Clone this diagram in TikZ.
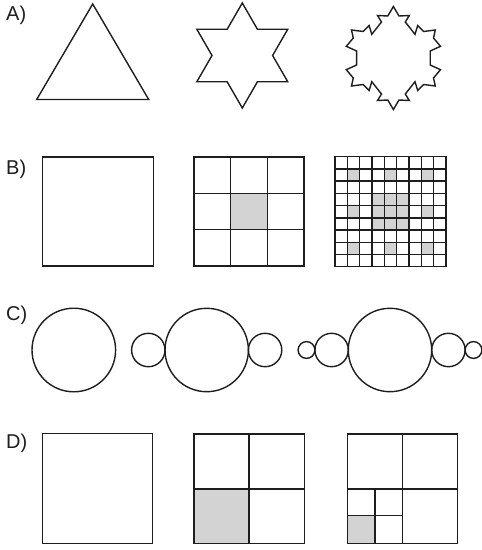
\documentclass[tikz,border=0pt]{standalone}
\usepackage{fontspec}
\setmainfont{Liberation Sans}
\definecolor{shade}{RGB}{211,211,211}
\definecolor{ink}{RGB}{30,30,30}
\begin{document}
\begin{tikzpicture}[x=1pt,y=-1pt,
  shapeline/.style={draw=ink, line width=1.4pt, line join=miter},
  lbl/.style={anchor=base west, inner sep=0pt, font=\fontsize{20}{24}\selectfont, text=ink},
  hole/.style={fill=shade}]
\useasboundingbox (0,0) rectangle (482,550);
\fill[white] (0,0) rectangle (482,550);

% labels
\node[lbl] (labA) at (6,20.5) {A)};
\node[lbl] (labB) at (6,174.3) {B)};
\node[lbl] (labC) at (6,320) {C)};
\node[lbl] (labD) at (6,448) {D)};

% ---- Row A: Koch ----
\draw[shapeline] (92.7,4) -- (148.7,99.5) -- (36.7,99.5) -- cycle;

\begin{scope}[shift={(242.3,55.5)}]
  \draw[shapeline] (90:52.5) \foreach \k in {0,...,5}{ -- ({90-60*\k}:52.5) -- ({60-60*\k}:30.3)} -- cycle;
\end{scope}

\begin{scope}[shift={(393.4,58)}, yscale=-1]
  \draw[shapeline] (0,51.5) -- (5.6,42) -- (15.9,42.5) -- (11.9,36) -- (21.6,23.7) -- (24.3,32.5) -- (30.2,26.5) -- (41.9,28) -- (40.1,20) -- (47.1,11.7) -- (36.8,7)
   -- (36.8,-7) -- (47.1,-11.7) -- (40.1,-20) -- (41.9,-28) -- (30.2,-26.5) -- (24.3,-32.5) -- (21.6,-23.7) -- (11.9,-36) -- (15.9,-42.5) -- (5.6,-42) -- (0,-51.5)
   -- (-5.6,-42) -- (-15.9,-42.5) -- (-11.9,-36) -- (-21.6,-23.7) -- (-24.3,-32.5) -- (-30.2,-26.5) -- (-41.9,-28) -- (-40.1,-20) -- (-47.1,-11.7) -- (-36.8,-7)
   -- (-36.8,7) -- (-47.1,11.7) -- (-40.1,20) -- (-41.9,28) -- (-30.2,26.5) -- (-24.3,32.5) -- (-21.6,23.7) -- (-11.9,36) -- (-15.9,42.5) -- (-5.6,42) -- cycle;
\end{scope}

% ---- Row B: Sierpinski carpet ----
\draw[shapeline] (42.7,157) rectangle (153.3,266);

\begin{scope}[shift={(194,157)}, x=36.667pt, y=-36.333pt]
  \fill[hole] (1,1) rectangle (2,2);
  \foreach \i in {1,2} {
    \draw[shapeline] (\i,0) -- (\i,3);
    \draw[shapeline] (0,\i) -- (3,\i);
  }
  \draw[shapeline] (0,0) rectangle (3,3);
\end{scope}

\begin{scope}[shift={(335,156.7)}, x=12.333pt, y=-12.222pt]
  \foreach \c/\r in {1/1,4/1,7/1,1/4,7/4,1/7,4/7,7/7}
    \fill[hole] (\c,\r) rectangle ++(1,1);
  \fill[hole] (3,3) rectangle (6,6);
  \foreach \i in {1,...,8} {
    \draw[shapeline] (\i,0) -- (\i,9);
    \draw[shapeline] (0,\i) -- (9,\i);
  }
  \draw[shapeline] (0,0) rectangle (9,9);
\end{scope}

% ---- Row C: circles ----
\draw[shapeline] (73.8,350) circle[radius=41.8];

\draw[shapeline] (206.7,350) circle[radius=41.7];
\draw[shapeline] (148.3,350) circle[radius=16.7];
\draw[shapeline] (265.1,350) circle[radius=16.7];

\draw[shapeline] (390,350) circle[radius=41.7];
\draw[shapeline] (331.6,350) circle[radius=16.7];
\draw[shapeline] (448.4,350) circle[radius=16.7];
\draw[shapeline] (306.5,350) circle[radius=8.4];
\draw[shapeline] (473.5,350) circle[radius=8.4];

% ---- Row D: squares ----
\draw[shapeline] (42.5,433.5) rectangle (152.5,543.3);

\fill[hole] (194,489) rectangle (249,543.3);
\draw[shapeline] (249,434) -- (249,543.3);
\draw[shapeline] (194,489) -- (304.3,489);
\draw[shapeline] (194,434) rectangle (304.3,543.3);

\fill[hole] (347.3,515.7) rectangle (375,543.3);
\draw[shapeline] (402.7,434) -- (402.7,543.3);
\draw[shapeline] (347.3,489) -- (457.7,489);
\draw[shapeline] (375,489) -- (375,543.3);
\draw[shapeline] (347.3,515.7) -- (402.7,515.7);
\draw[shapeline] (347.3,434) rectangle (457.7,543.3);
\end{tikzpicture}
\end{document}
